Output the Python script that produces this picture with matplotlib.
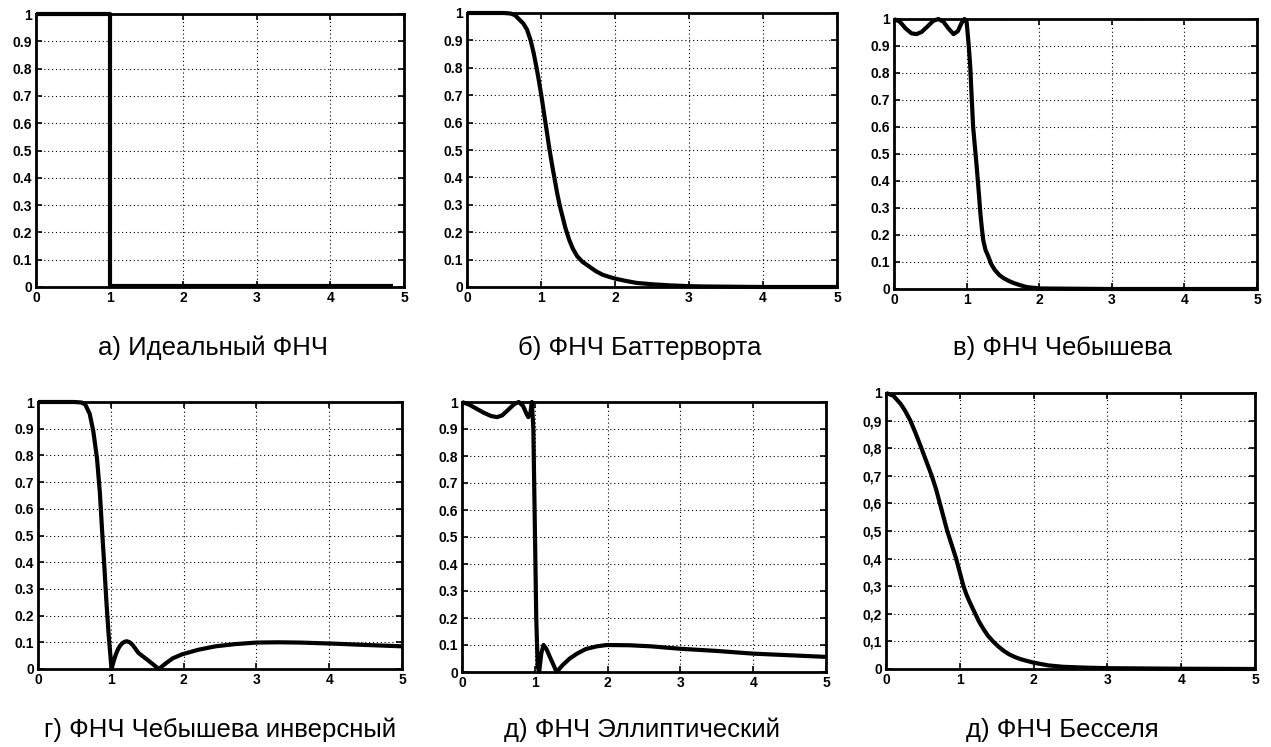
import matplotlib
matplotlib.use("Agg")
import matplotlib.pyplot as plt
from matplotlib import font_manager

W, H = 1271, 747

# ---------------- data ----------------
ideal_x = [0, 1, 1, 4.85]
ideal_y = [1, 1, 0.005, 0.005]

butter_x = [0, 0.3, 0.5, 0.59, 0.65, 0.70, 0.76, 0.81, 0.86, 0.90, 0.94, 0.97, 1.01, 1.04,
            1.08, 1.11, 1.15, 1.19, 1.22, 1.26, 1.29, 1.33, 1.38, 1.43, 1.49, 1.56, 1.65,
            1.74, 1.83, 1.92, 2.01, 2.15, 2.29, 2.5, 2.74, 3.0, 3.19, 4.0, 5.0]
butter_y = [1.0, 1.0, 1.0, 0.998, 0.992, 0.978, 0.962, 0.94, 0.9, 0.855, 0.8, 0.755, 0.69, 0.635,
            0.565, 0.51, 0.445, 0.385, 0.34, 0.29, 0.258, 0.215, 0.173, 0.14, 0.112, 0.092, 0.075,
            0.058, 0.045, 0.037, 0.03, 0.022, 0.015, 0.01, 0.006, 0.003, 0.002, 0.0, 0.0]

cheb_x = [0, 0.08, 0.16, 0.24, 0.31, 0.38, 0.46, 0.54, 0.61, 0.68, 0.75, 0.82, 0.88,
          0.93, 0.97, 1.0, 1.03, 1.05, 1.07, 1.09, 1.12, 1.14, 1.17, 1.19, 1.21, 1.23, 1.26,
          1.30, 1.34, 1.39, 1.45, 1.51, 1.58, 1.65, 1.74, 1.83, 2.01, 2.5, 3.0, 5.0]
cheb_y = [1.0, 0.99, 0.965, 0.947, 0.944, 0.952, 0.972, 0.993, 1.0, 0.99, 0.965, 0.944, 0.955,
          0.985, 1.0, 0.99, 0.9, 0.825, 0.71, 0.6, 0.51, 0.45, 0.35, 0.28, 0.225, 0.18, 0.145,
          0.12, 0.092, 0.07, 0.052, 0.04, 0.03, 0.022, 0.014, 0.007, 0.002, 0.001, 0.0, 0.0]

inv_x = [0, 0.3, 0.5, 0.6, 0.65, 0.71, 0.76, 0.81, 0.85, 0.88, 0.91, 0.94, 0.97, 1.01,
         1.04, 1.07, 1.1, 1.13, 1.16, 1.19, 1.22, 1.26, 1.3, 1.38, 1.5, 1.66, 1.75, 1.85, 1.98,
         2.2, 2.44, 2.7, 3.0, 3.3, 3.6, 4.06, 4.5, 5.0]
inv_y = [1.0, 1.0, 1.0, 0.998, 0.99, 0.956, 0.89, 0.79, 0.66, 0.52, 0.39, 0.25, 0.13, 0.0,
         0.03, 0.055, 0.075, 0.088, 0.097, 0.102, 0.104, 0.1, 0.09, 0.06, 0.035, 0.0, 0.02,
         0.04, 0.055, 0.072, 0.085, 0.093, 0.099, 0.1, 0.099, 0.095, 0.09, 0.085]

ell_x = [0, 0.1, 0.2, 0.3, 0.4, 0.48, 0.55, 0.65, 0.72, 0.78, 0.84, 0.88, 0.91, 0.94,
         0.96, 0.98, 1.0, 1.02, 1.04, 1.06, 1.09, 1.12, 1.16, 1.2, 1.25, 1.30, 1.38, 1.48,
         1.58, 1.7, 1.85, 1.99, 2.3, 2.6, 3.0, 3.5, 4.0, 4.5, 5.0]
ell_y = [1.0, 0.99, 0.975, 0.96, 0.948, 0.944, 0.95, 0.975, 0.993, 1.0, 0.985, 0.96, 0.944, 0.96,
         1.0, 0.9, 0.55, 0.2, 0.02, 0.0, 0.07, 0.1, 0.085, 0.06, 0.03, 0.0, 0.025, 0.05,
         0.068, 0.085, 0.095, 0.1, 0.099, 0.095, 0.086, 0.078, 0.068, 0.062, 0.056]

bessel_x = [0, 0.1, 0.2, 0.26, 0.33, 0.4, 0.48, 0.55, 0.62, 0.68, 0.73, 0.78, 0.83, 0.89,
            0.95, 1.0, 1.05, 1.09, 1.13, 1.17, 1.21, 1.26, 1.32, 1.38, 1.45, 1.52, 1.6, 1.67,
            1.75, 1.82, 1.9, 2.0, 2.1, 2.2, 2.4, 2.7, 3.0, 3.5, 4.0, 5.0]
bessel_y = [1.0, 0.99, 0.96, 0.935, 0.9, 0.855, 0.8, 0.75, 0.7, 0.65, 0.6, 0.55, 0.5, 0.45,
            0.4, 0.35, 0.3, 0.27, 0.245, 0.222, 0.2, 0.172, 0.145, 0.121, 0.1, 0.082, 0.065, 0.053,
            0.043, 0.036, 0.03, 0.023, 0.018, 0.013, 0.008, 0.005, 0.003, 0.002, 0.001, 0.0]

x_ticks = [0, 1, 2, 3, 4, 5]
y_ticks = [0, 0.1, 0.2, 0.3, 0.4, 0.5, 0.6, 0.7, 0.8, 0.9, 1]
y_labels_dot = ["0", "0.1", "0.2", "0.3", "0.4", "0.5", "0.6", "0.7", "0.8", "0.9", "1"]
y_labels_comma = ["0", "0,1", "0,2", "0,3", "0,4", "0,5", "0,6", "0,7", "0,8", "0,9", "1"]

captions = ["а) Идеальный ФНЧ", "б) ФНЧ Баттерворта", "в) ФНЧ Чебышева",
            "г) ФНЧ Чебышева инверсный", "д) ФНЧ Эллиптический", "д) ФНЧ Бесселя"]

# ---------------- layout ----------------
# (left, right, top, bottom) in pixels
boxes = [(36, 404, 14, 287), (467, 837, 13, 287), (894, 1257, 19, 289),
         (38, 402, 402, 669), (462, 826, 402, 672), (886, 1255, 393, 669)]
cap_pos = [(213, 348), (640, 348), (1062, 348), (220, 730), (642, 730), (1062, 730)]

series = [(ideal_x, ideal_y), (butter_x, butter_y), (cheb_x, cheb_y),
          (inv_x, inv_y), (ell_x, ell_y), (bessel_x, bessel_y)]
ylabs = [y_labels_dot] * 5 + [y_labels_comma]

avail = {f.name for f in font_manager.fontManager.ttflist}
cap_family = [f for f in ["Liberation Sans Narrow", "Liberation Sans", "DejaVu Sans"] if f in avail]

fig = plt.figure(figsize=(W / 100, H / 100), dpi=100)
fig.patch.set_facecolor("white")

for i, ((l, r, t, b), (xs, ys), yl) in enumerate(zip(boxes, series, ylabs)):
    ax = fig.add_axes([l / W, 1 - b / H, (r - l) / W, (b - t) / H])
    ax.plot(xs, ys, color="black", lw=3.0, solid_joinstyle="round",
            solid_capstyle="butt", clip_on=False, zorder=3)
    ax.set_xlim(0, 5)
    ax.set_ylim(0, 1)
    ax.set_xticks(x_ticks)
    ax.set_yticks(y_ticks)
    ax.set_xticklabels([str(v) for v in x_ticks])
    ax.set_yticklabels(yl)
    ax.grid(True, color="black", linestyle=(0, (1, 2.5)), linewidth=0.8)
    ax.tick_params(direction="in", length=4, width=1.2, top=True, right=True,
                   labelsize=10, pad=3)
    for lab in ax.get_xticklabels() + ax.get_yticklabels():
        lab.set_fontweight("bold")
        lab.set_family(["Liberation Sans", "DejaVu Sans"])
    for sp in ax.spines.values():
        sp.set_linewidth(2.0)
        sp.set_color("black")
    cx, cy = cap_pos[i]
    fig.text(cx / W, 1 - cy / H, captions[i], ha="center", va="center",
             fontsize=18.5, family=cap_family, color="black")

fig.savefig("out.png", dpi=100, facecolor="white")
